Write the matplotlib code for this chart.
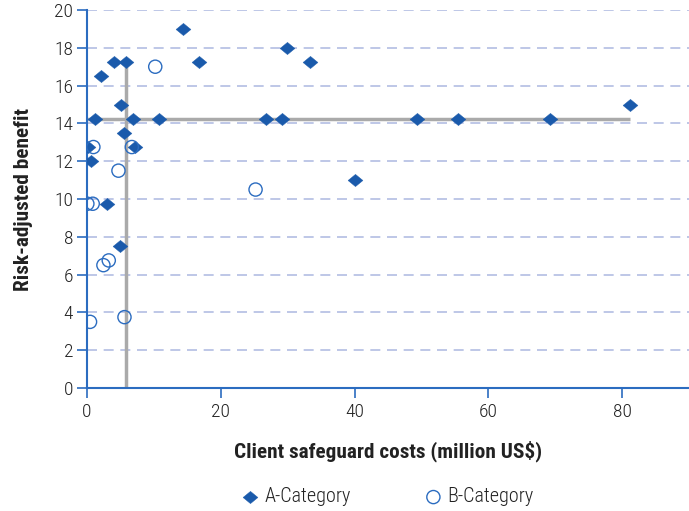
import matplotlib
matplotlib.use("Agg")
import matplotlib.pyplot as plt

plt.rcParams['font.family'] = ['Roboto Condensed', 'DejaVu Sans']

a_x = [14.3, 29.9, 4.0, 5.9, 16.8, 33.4, 2.1, 5.1, 81.2, 1.2, 6.9, 10.7, 26.7, 29.2,
       49.4, 55.5, 69.2, 5.5, 0.2, 7.1, 0.6, 40.1, 3.0, 4.9]
a_y = [19.0, 18.0, 17.25, 17.25, 17.25, 17.25, 16.5, 15.0, 15.0, 14.25, 14.25, 14.25, 14.25, 14.25,
       14.25, 14.25, 14.25, 13.5, 12.75, 12.75, 12.0, 11.0, 9.75, 7.5]
b_x = [10.2, 0.95, 6.7, 4.7, 25.2, 0.05, 0.85, 2.45, 3.25, 0.45, 5.6]
b_y = [17.0, 12.75, 12.75, 11.5, 10.5, 9.75, 9.75, 6.5, 6.75, 3.5, 3.75]

ref_h_y = 14.25
ref_h_x = [0, 81.2]
ref_v_x = 5.85
ref_v_y = [0, 17.25]

x_ticks = [0, 20, 40, 60, 80]
y_ticks = list(range(0, 21, 2))

blue = '#2b6cc0'
dark = '#1a5aab'
grid = '#b3bde3'
text = '#222222'

diamond = [(-1.0, 0.0), (0.0, 0.82), (1.0, 0.0), (0.0, -0.82), (-1.0, 0.0)]

fig = plt.figure(figsize=(6.89, 5.11), dpi=100)
ax = fig.add_axes([0.1263, 0.2407, 0.8737, 0.7397])

for y in y_ticks[1:]:
    ax.axhline(y, color=grid, lw=1.2, ls=(0, (6, 4)), zorder=1)

ax.plot(ref_h_x, [ref_h_y, ref_h_y], color='#aaaaaa', lw=2.5, zorder=2, solid_capstyle='butt')
ax.plot([ref_v_x, ref_v_x], ref_v_y, color='#aaaaaa', lw=2.5, zorder=2, solid_capstyle='butt')

ax.scatter(a_x, a_y, marker=diamond, s=115, color=dark, edgecolors=dark, linewidths=0.3, zorder=3, label='A-Category')
ax.scatter(b_x, b_y, marker='o', s=90, facecolors='none', edgecolors=blue, linewidths=1.0, zorder=4, label='B-Category')

ax.set_xlim(0, 90)
ax.set_ylim(0, 20)
ax.set_xticks(x_ticks)
ax.set_yticks(y_ticks)
for s in ['top', 'right']:
    ax.spines[s].set_visible(False)
for s in ['left', 'bottom']:
    ax.spines[s].set_color(blue)
    ax.spines[s].set_linewidth(1.5)
ax.tick_params(axis='both', colors=blue, labelcolor=text, labelsize=14, length=7, width=1.2)
ax.tick_params(axis='y', pad=3)
for lab in ax.get_xticklabels() + ax.get_yticklabels():
    lab.set_fontweight('light')

ax.set_xlabel('Client safeguard costs (million US$)', fontsize=15.3, fontweight='bold', color=text, labelpad=14)
ax.set_ylabel('Risk-adjusted benefit', fontsize=15.3, fontweight='bold', color=text, labelpad=15)

leg = ax.legend(loc='center', bbox_to_anchor=(0.5, -0.288), ncol=2, frameon=False,
                fontsize=14.5, handlelength=0.8, handletextpad=0.3, columnspacing=3.7, markerscale=1.0)
for t in leg.get_texts():
    t.set_fontweight('light')
    t.set_color(text)

fig.savefig('out.png', dpi=100)
